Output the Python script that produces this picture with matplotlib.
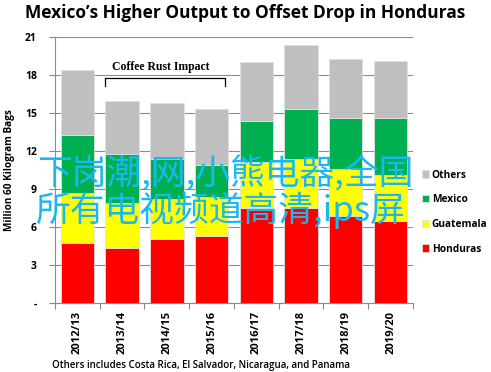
import matplotlib
matplotlib.use("Agg")
import matplotlib.pyplot as plt
import numpy as np

seasons = ["2012/13", "2013/14", "2014/15", "2015/16", "2016/17", "2017/18", "2018/19", "2019/20"]
honduras = [4.7, 4.35, 5.05, 5.25, 7.5, 7.5, 6.9, 6.45]
guatemala = [4.0, 3.55, 3.15, 3.15, 3.6, 3.9, 3.7, 3.65]
mexico = [4.6, 3.9, 3.2, 2.5, 3.3, 3.95, 4.0, 4.5]
others = [5.1, 4.15, 4.4, 4.4, 4.6, 5.05, 4.65, 4.5]
yticks = [0, 3, 6, 9, 12, 15, 18, 21]
ytick_labels = ["-", "3", "6", "9", "12", "15", "18", "21"]

series = [("Honduras", honduras, "#FF0000"),
          ("Guatemala", guatemala, "#FFFF00"),
          ("Mexico", mexico, "#00B050"),
          ("Others", others, "#BFBFBF")]

plt.rcParams['font.family'] = ['Open Sans', 'DejaVu Sans']

fig = plt.figure(figsize=(4.91, 3.72), dpi=100)
ax = fig.add_axes([0.112, 0.1855, 0.729, 0.715])

x = np.arange(len(seasons))
bottom = np.zeros(len(seasons))
handles = []
for name, vals, col in series:
    b = ax.bar(x, vals, bottom=bottom, width=0.745, color=col, edgecolor="#E0E0E0",
               linewidth=0.6, zorder=3, label=name)
    handles.append(b)
    bottom += np.array(vals)

ax.set_xlim(-0.5, 7.5)
ax.set_ylim(0, 21)
ax.set_yticks(yticks)
ax.set_yticklabels(ytick_labels, fontsize=7.5, fontweight="bold")
ax.set_xticks(x)
ax.set_xticklabels(seasons, rotation=90, fontsize=8, fontweight="bold")
ax.set_xticks(np.arange(-0.5, 8.0, 1), minor=True)
ax.tick_params(axis="x", which="major", length=0, pad=6)
ax.tick_params(axis="x", which="minor", length=4, color="#888888", width=0.8)
ax.tick_params(axis="y", length=4, color="#888888", width=0.8, pad=9)
ax.yaxis.grid(True, color="#8C8C8C", linewidth=0.8, zorder=0)
for s in ["top", "right"]:
    ax.spines[s].set_visible(False)
for s in ["left", "bottom"]:
    ax.spines[s].set_color("#8C8C8C")
    ax.spines[s].set_linewidth(0.8)
ax.set_ylabel("Million 60 Kilogram Bags", fontsize=7.2, fontweight="bold")
ax.yaxis.set_label_coords(-0.112, 0.5)

# legend
leg = fig.legend(handles[::-1], [s[0] for s in series][::-1], loc="center left",
                 bbox_to_anchor=(0.84, 0.43), frameon=False,
                 handlelength=0.7, handleheight=0.7, labelspacing=1.35, handletextpad=0.3,
                 prop={"weight": "bold", "size": 7.3})

fig.text(0.5, 0.965, "Mexico\u2019s Higher Output to Offset Drop in Honduras",
         ha="center", va="center", fontsize=12.5, fontweight="bold")
fig.text(0.106, 0.018, "Others includes Costa Rica, El Salvador, Nicaragua, and Panama",
         ha="left", va="center", fontsize=7, fontweight="semibold")

# Coffee Rust Impact annotation
ax.text(1.87, 18.6, "Coffee Rust Impact", ha="center", va="center",
        fontsize=8.5, fontweight="bold", family="Liberation Serif")
ax.plot([0.62, 0.62, 3.3, 3.3], [17.1, 17.8, 17.8, 17.1], color="black", lw=0.9, zorder=5)

# watermark overlay
fig.text(0.458, 0.53, "下岗潮,网,小熊电器,全国", ha="center", va="center",
         fontsize=25, color="#19B8F0", family=["Noto Sans CJK SC", "DejaVu Sans"], zorder=10)
fig.text(0.45, 0.435, "所有电视频道高清,ips屏", ha="center", va="center",
         fontsize=25, color="#19B8F0", family=["Noto Sans CJK SC", "DejaVu Sans"], zorder=10)

fig.savefig("out.png", dpi=100)
